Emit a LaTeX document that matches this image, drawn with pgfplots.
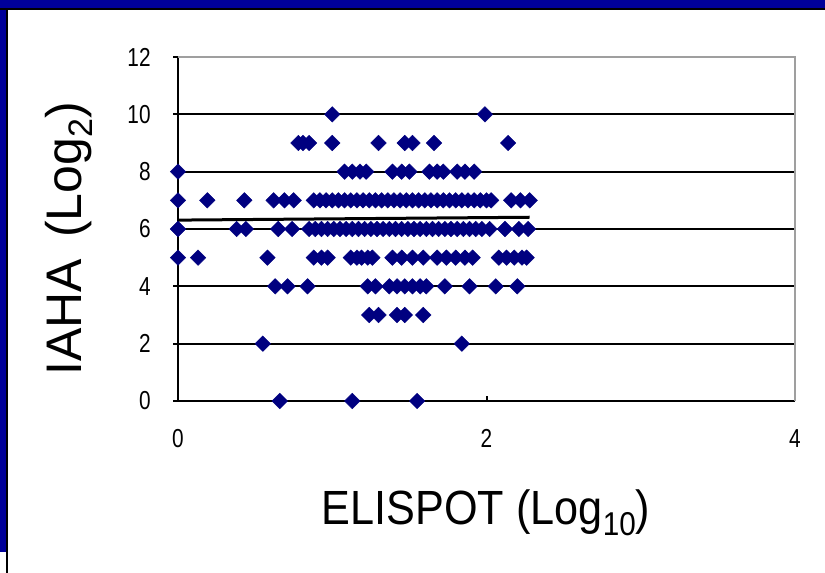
\documentclass[border=0pt]{standalone}
\usepackage{fontspec}
\setmainfont{Liberation Sans}
\newfontfamily\tickfont[FakeStretch=0.8]{Liberation Sans}
\newfontfamily\labfont[FakeStretch=0.9]{Liberation Sans}
\usepackage{pgfplots}
\pgfplotsset{compat=1.18}
\definecolor{navy}{RGB}{0,0,128}
\definecolor{frameblue}{RGB}{0,0,153}
\begin{document}
\begin{tikzpicture}[x=1pt,y=1pt]
\path[use as bounding box] (0,0) rectangle (412.5,286.5);
\fill[white] (0,0) rectangle (412.5,286.5);
\fill[frameblue] (0,282.5) rectangle (412.5,286.5);
\fill[frameblue] (0,10.5) rectangle (3,286.5);
\fill[black] (0,281.3) rectangle (412.5,282.5);
\fill[black] (3,0) rectangle (4,282.5);
\begin{axis}[
  at={(89pt,86pt)}, anchor=south west,
  scale only axis, width=308.5pt, height=172pt,
  xmin=0, xmax=4, ymin=0, ymax=12,
  xtick={0,2,4}, ytick={0,2,4,6,8,10,12},
  xticklabels={0,2,4}, yticklabels={0,2,4,6,8,10,12},
  axis x line*=bottom, axis y line*=left,
  axis line style={line width=1pt, black, -},
  ymajorgrids, grid style={line width=1pt, black},
  xtick align=inside, ytick align=outside, major tick length=2.5pt,
  tick style={black, line width=1pt},
  xticklabel style={font=\fontsize{13}{13}\selectfont\tickfont, anchor=north, inner sep=0pt, yshift=-14pt},
  yticklabel style={font=\fontsize{13}{13}\selectfont\tickfont, anchor=east, inner sep=0pt, xshift=-11pt},
  clip=false,
]
\addplot[only marks, mark=square*, mark size=2.75pt, mark options={rotate=45, fill=navy, draw=navy, line width=0.2pt}] table {
x y
1.00 10
1.99 10
0.78 9
0.81 9
0.85 9
1.00 9
1.30 9
1.47 9
1.52 9
1.66 9
2.14 9
0.00 8
1.08 8
1.13 8
1.18 8
1.22 8
1.39 8
1.45 8
1.50 8
1.63 8
1.68 8
1.72 8
1.81 8
1.86 8
1.92 8
0.00 7
0.19 7
0.43 7
0.62 7
0.69 7
0.75 7
0.88 7
0.92 7
0.96 7
1.00 7
1.04 7
1.08 7
1.12 7
1.16 7
1.20 7
1.24 7
1.28 7
1.32 7
1.36 7
1.40 7
1.44 7
1.48 7
1.52 7
1.56 7
1.60 7
1.64 7
1.68 7
1.72 7
1.76 7
1.80 7
1.84 7
1.88 7
1.92 7
1.96 7
2.00 7
2.03 7
2.16 7
2.22 7
2.28 7
0.00 6
0.38 6
0.44 6
0.65 6
0.74 6
0.85 6
0.89 6
0.93 6
0.97 6
1.01 6
1.05 6
1.09 6
1.13 6
1.17 6
1.21 6
1.25 6
1.29 6
1.33 6
1.37 6
1.41 6
1.45 6
1.49 6
1.53 6
1.57 6
1.61 6
1.65 6
1.69 6
1.73 6
1.77 6
1.81 6
1.85 6
1.89 6
1.93 6
1.97 6
2.02 6
2.12 6
2.21 6
2.27 6
0.00 5
0.13 5
0.58 5
0.88 5
0.93 5
0.97 5
1.12 5
1.16 5
1.19 5
1.23 5
1.26 5
1.39 5
1.45 5
1.52 5
1.59 5
1.68 5
1.74 5
1.80 5
1.86 5
1.91 5
2.08 5
2.13 5
2.18 5
2.23 5
2.26 5
0.63 4
0.71 4
0.84 4
1.23 4
1.28 4
1.37 4
1.42 4
1.47 4
1.52 4
1.57 4
1.61 4
1.73 4
1.89 4
2.06 4
2.20 4
1.24 3
1.30 3
1.42 3
1.47 3
1.59 3
0.55 2
1.84 2
0.66 0
1.13 0
1.55 0
};
\addplot[black, line width=1.5pt] coordinates {(0,6.31) (2.28,6.41)};
\draw[gray!75, line width=1pt] (rel axis cs:0,1) -- (rel axis cs:1,1) -- (rel axis cs:1,0);
\end{axis}
\node[anchor=base, inner sep=0pt] at (243,24) {\fontsize{24}{24}\selectfont\labfont ELISPOT (Log\raisebox{-0.22em}{\fontsize{16.5}{16.5}\selectfont 10})};
\node[rotate=90, anchor=base, inner sep=0pt] at (40.5,167) {\fontsize{25}{25}\selectfont IAHA\hspace{0.15em} (Log\raisebox{-0.22em}{\fontsize{17}{17}\selectfont 2})};
\end{tikzpicture}
\end{document}
